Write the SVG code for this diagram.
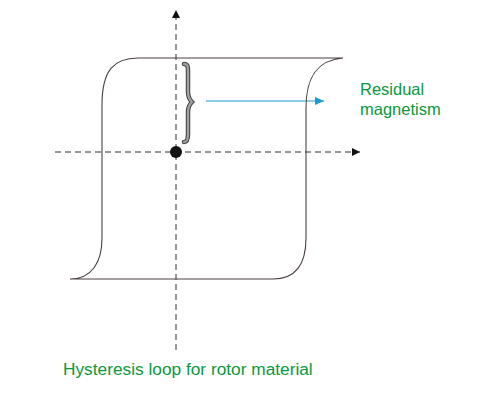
<svg xmlns="http://www.w3.org/2000/svg" width="484" height="414" viewBox="0 0 484 414">
<style>
.axis{stroke:#333;stroke-width:1;stroke-dasharray:6 4;fill:none}
.loop{stroke:#4a3e3e;stroke-width:1.1;fill:none}
.lbl{font-family:"Liberation Sans",Arial,sans-serif;fill:#0a993c}
</style>
<defs>
<marker id="ah" markerWidth="10" markerHeight="10" refX="8" refY="4" orient="auto" markerUnits="userSpaceOnUse">
<path d="M0,0 L8,4 L0,8 Z" fill="#111"/>
</marker>
<marker id="bh" markerWidth="10" markerHeight="10" refX="9" refY="4" orient="auto" markerUnits="userSpaceOnUse">
<path d="M0,0 L9,4 L0,8 Z" fill="#1a9ad6"/>
</marker>
</defs>
<rect width="484" height="414" fill="#fff"/>
<g id="connectors">
<line class="axis" x1="176" y1="350" x2="176" y2="10" marker-end="url(#ah)"/>
<line class="axis" x1="55" y1="152" x2="360" y2="152" marker-end="url(#ah)"/>
<line x1="206" y1="101" x2="324" y2="101" stroke="#1a9ad6" stroke-width="1" marker-end="url(#bh)"/>
</g>
<g id="loop">
<path class="loop" d="M343 58 L138 58 C114 58 102 70 102 105 L102 238 C102 262 92 279 70 279 L273 279 C294 279 306 266 306 238 L306 108 C306 76 318 60 343 58"/>
</g>
<g id="origin">
<circle cx="176" cy="152" r="6" fill="#111"/>
</g>
<g id="brace">
<path d="M184 64 C188 64 188 67 188 72 L188 92 C188 98 190 100 192 102 C190 104 188 106 188 112 L188 134 C188 140 187 142 184 142" fill="none" stroke="#444" stroke-width="4.5" stroke-linecap="round"/>
<path d="M184 64 C188 64 188 67 188 72 L188 92 C188 98 190 100 192 102 C190 104 188 106 188 112 L188 134 C188 140 187 142 184 142" fill="none" stroke="#a0a0a0" stroke-width="2.4" stroke-linecap="round"/>
</g>
<g id="residual">
<text class="lbl" x="360" y="95" font-size="16.5">Residual</text>
<text class="lbl" x="360" y="115" font-size="16.5">magnetism</text>
</g>
<g id="caption">
<text class="lbl" x="63" y="375" font-size="17.3">Hysteresis loop for rotor material</text>
</g>
</svg>
